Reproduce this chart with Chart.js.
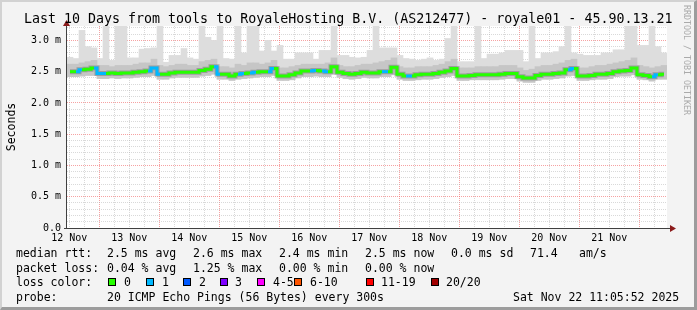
<!DOCTYPE html>
<html>
<head>
<meta charset="utf-8">
<script src="https://cdn.jsdelivr.net/npm/chart.js@4/dist/chart.umd.min.js"></script>
<style>
  body { margin: 0; background: #f3f3f3; }
  #wrap { position: relative; width: 697px; height: 310px; overflow: hidden; background: #f3f3f3;
          font-family: "DejaVu Sans Mono", monospace; color: #000; }
  #chart { position: absolute; left: 0; top: 0; }
  #frame { position: absolute; left: 0; top: 0; width: 697px; height: 310px; box-sizing: border-box;
           border-style: solid; border-width: 2px 3px 3px 2px;
           border-color: #d2d2d2 #9c9c9c #9c9c9c #d2d2d2; pointer-events: none; }
  .t { position: absolute; white-space: pre; font-size: 11.5px; line-height: 14px; }
  .box { position: absolute; width: 6px; height: 6px; border: 1px solid #000; top: 278px; }
  #title { position: absolute; left: 24px; top: 11px; font-size: 13.3px; line-height: 16px; white-space: pre; }
  #ylab { position: absolute; left: -17px; top: 120px; width: 56px; text-align: center;
          font-size: 11.5px; line-height: 14px; transform: rotate(-90deg); }
  #rrd { position: absolute; left: 682px; top: 5px; writing-mode: vertical-rl; font-size: 8.3px;
         color: #aaa; white-space: pre; }
</style>
</head>
<body>
<div id="wrap">
  <canvas id="chart" width="697" height="310"></canvas>
  <div id="title">Last 10 Days from tools to RoyaleHosting B.V. (AS212477) - royale01 - 45.90.13.21</div>
  <div id="ylab">Seconds</div>
  <div id="rrd">RRDTOOL / TOBI OETIKER</div>
  <div id="legend"></div>
  <div id="frame"></div>
</div>
<script>
// time axis: hours since 12 Nov 00:00, window ends Sat Nov 22 11:05:52
const startHour = 11.1;
const endHour = 251.1;
const stepHours = 2.4;
const dayLabels = ['12 Nov', '13 Nov', '14 Nov', '15 Nov', '16 Nov', '17 Nov', '18 Nov', '19 Nov', '20 Nov', '21 Nov'];

// median rtt (ms), one value per 2.4h column
const median = [
  2.50, 2.50, 2.53, 2.54, 2.56, 2.47, 2.47, 2.48, 2.47, 2.48,
  2.48, 2.49, 2.50, 2.51, 2.56, 2.46, 2.46, 2.48, 2.49, 2.49,
  2.49, 2.49, 2.52, 2.54, 2.58, 2.46, 2.46, 2.43, 2.46, 2.47,
  2.48, 2.49, 2.50, 2.50, 2.55, 2.43, 2.43, 2.45, 2.48, 2.51,
  2.51, 2.52, 2.51, 2.50, 2.58, 2.49, 2.47, 2.46, 2.47, 2.49,
  2.48, 2.48, 2.50, 2.50, 2.57, 2.46, 2.43, 2.43, 2.45, 2.46,
  2.46, 2.47, 2.49, 2.51, 2.55, 2.43, 2.43, 2.44, 2.45, 2.45,
  2.45, 2.45, 2.46, 2.47, 2.47, 2.42, 2.40, 2.40, 2.44, 2.46,
  2.46, 2.47, 2.48, 2.53, 2.55, 2.43, 2.43, 2.44, 2.46, 2.46,
  2.47, 2.50, 2.51, 2.52, 2.56, 2.45, 2.44, 2.42, 2.45, 2.46
];

// lost pings per column (out of 20)
const loss = [
  0, 1, 0, 0, 1, 1, 0, 0, 0, 0,
  0, 0, 0, 1, 1, 0, 0, 0, 0, 0,
  0, 0, 0, 0, 1, 0, 0, 0, 1, 0,
  1, 0, 0, 1, 0, 0, 0, 0, 0, 0,
  1, 0, 1, 0, 0, 0, 0, 0, 0, 0,
  0, 0, 1, 0, 0, 0, 1, 0, 0, 0,
  0, 0, 0, 0, 0, 0, 0, 0, 0, 0,
  0, 0, 0, 0, 0, 0, 0, 0, 0, 0,
  0, 0, 0, 1, 0, 0, 0, 0, 0, 0,
  0, 0, 0, 0, 0, 0, 0, 1, 0, 0
];

// smoke: slowest ping per column
const smokeMax = [
  2.73, 2.71, 3.16, 2.90, 2.88, 2.71, 3.30, 2.68, 3.30, 3.30,
  2.72, 2.72, 2.86, 2.87, 2.88, 3.30, 2.65, 2.76, 2.76, 2.87,
  2.72, 2.70, 3.30, 3.05, 3.00, 3.30, 2.71, 2.70, 3.30, 2.80,
  3.30, 3.30, 2.83, 3.00, 2.83, 2.92, 2.70, 2.70, 2.80, 2.80,
  2.80, 2.70, 2.84, 2.84, 3.30, 2.76, 2.76, 2.73, 2.72, 2.73,
  2.84, 3.30, 2.88, 2.88, 2.88, 2.76, 2.71, 2.70, 2.68, 2.70,
  2.72, 2.68, 2.70, 3.03, 3.30, 2.66, 2.66, 2.66, 3.30, 2.71,
  2.78, 2.78, 2.80, 2.84, 2.84, 2.84, 2.66, 3.30, 2.71, 2.80,
  2.80, 2.82, 2.90, 3.30, 2.80, 2.78, 2.76, 2.76, 2.76, 2.80,
  2.80, 2.85, 2.85, 3.30, 3.30, 2.92, 2.92, 3.30, 2.90, 2.80
];

// smoke: upper edge of the dense band
const smokeHigh = [
  2.62, 2.62, 2.64, 2.66, 2.68, 2.60, 2.60, 2.58, 2.60, 2.60,
  2.60, 2.62, 2.64, 2.64, 2.70, 2.60, 2.58, 2.60, 2.62, 2.62,
  2.60, 2.60, 2.66, 2.68, 2.70, 2.58, 2.58, 2.56, 2.62, 2.60,
  2.64, 2.64, 2.62, 2.64, 2.68, 2.56, 2.56, 2.58, 2.60, 2.62,
  2.62, 2.62, 2.62, 2.64, 2.72, 2.60, 2.58, 2.58, 2.60, 2.62,
  2.62, 2.64, 2.66, 2.68, 2.72, 2.58, 2.56, 2.56, 2.58, 2.58,
  2.58, 2.60, 2.62, 2.66, 2.70, 2.56, 2.56, 2.56, 2.58, 2.58,
  2.58, 2.58, 2.60, 2.60, 2.60, 2.56, 2.52, 2.54, 2.58, 2.60,
  2.60, 2.62, 2.64, 2.68, 2.70, 2.56, 2.56, 2.58, 2.60, 2.60,
  2.62, 2.64, 2.66, 2.68, 2.72, 2.60, 2.58, 2.56, 2.58, 2.60
];

// smoke: fastest ping per column
const smokeLow = [
  2.42, 2.42, 2.43, 2.44, 2.44, 2.39, 2.39, 2.40, 2.39, 2.40,
  2.40, 2.41, 2.42, 2.42, 2.44, 2.38, 2.38, 2.40, 2.41, 2.41,
  2.41, 2.41, 2.43, 2.44, 2.46, 2.38, 2.38, 2.36, 2.38, 2.39,
  2.40, 2.41, 2.42, 2.42, 2.44, 2.36, 2.36, 2.37, 2.40, 2.42,
  2.42, 2.43, 2.42, 2.42, 2.46, 2.41, 2.39, 2.38, 2.39, 2.41,
  2.40, 2.40, 2.42, 2.42, 2.45, 2.38, 2.36, 2.36, 2.37, 2.38,
  2.38, 2.39, 2.41, 2.42, 2.44, 2.36, 2.36, 2.37, 2.37, 2.37,
  2.37, 2.37, 2.38, 2.39, 2.39, 2.35, 2.33, 2.33, 2.36, 2.38,
  2.38, 2.39, 2.40, 2.43, 2.44, 2.36, 2.36, 2.37, 2.38, 2.38,
  2.39, 2.42, 2.43, 2.43, 2.45, 2.38, 2.37, 2.35, 2.38, 2.38
];

const lossLabels = ['0', '1', '2', '3', '4-5', '6-10', '11-19', '20/20'];
const lossColors = ['#26ff00', '#00b8ff', '#0059ff', '#7e00ff', '#ff00ff', '#ff5500', '#ff0000', '#a10000'];

const hours = median.map((_, i) => startHour + stepHours * (i + 0.5));
const pts = arr => arr.map((v, i) => ({ x: hours[i], y: v }));
const range = (lo, hi) => lo.map((v, i) => ({ x: hours[i], y: [v, hi[i]] }));

function lossColor(n) {
  if (n <= 3) return lossColors[n];
  if (n <= 5) return lossColors[4];
  if (n <= 10) return lossColors[5];
  if (n <= 19) return lossColors[6];
  return lossColors[7];
}

// white canvas behind the plot, axes with arrows on top
const framePlugin = {
  id: 'frame',
  beforeDraw(chart) {
    const a = chart.chartArea, c = chart.ctx;
    c.save();
    c.fillStyle = '#ffffff';
    c.fillRect(a.left, a.top, a.right - a.left, a.bottom - a.top);
    c.restore();
  },
  afterDraw(chart) {
    const a = chart.chartArea, c = chart.ctx;
    c.save();
    c.strokeStyle = '#404040';
    c.lineWidth = 1;
    c.beginPath();
    c.moveTo(a.left - 0.5, a.bottom + 0.5);
    c.lineTo(a.left - 0.5, a.top - 3);
    c.moveTo(a.left - 3, a.bottom + 0.5);
    c.lineTo(a.right + 5, a.bottom + 0.5);
    c.stroke();
    c.fillStyle = '#8b1a1a';
    c.beginPath();
    c.moveTo(a.left - 4, a.top);
    c.lineTo(a.left + 3, a.top);
    c.lineTo(a.left - 0.5, a.top - 6);
    c.closePath();
    c.fill();
    c.beginPath();
    c.moveTo(a.right + 3, a.bottom - 3);
    c.lineTo(a.right + 3, a.bottom + 4);
    c.lineTo(a.right + 9, a.bottom + 0.5);
    c.closePath();
    c.fill();
    c.restore();
  }
};

const gridMinor = 'rgba(170,170,170,0.45)';
const gridMajor = 'rgba(240,100,100,0.6)';
const tickFont = { family: '"DejaVu Sans Mono"', size: 10 };

new Chart(document.getElementById('chart').getContext('2d'), {
  data: {
    datasets: [
      {
        type: 'line', label: 'median', order: 0,
        data: pts(median), stepped: 'middle', borderWidth: 3, pointRadius: 0,
        borderColor: lossColors[0],
        segment: { borderColor: ctx => lossColor(loss[ctx.p0DataIndex]) }
      },
      {
        type: 'line', label: 'core', order: 1,
        data: pts(median), stepped: 'middle', borderWidth: 5, pointRadius: 0,
        borderColor: 'rgba(80,80,80,0.35)'
      },
      {
        type: 'bar', label: 'band', order: 2,
        data: range(smokeLow, smokeHigh), backgroundColor: '#c6c6c6', borderWidth: 0,
        barPercentage: 1, categoryPercentage: 1, grouped: false
      },
      {
        type: 'bar', label: 'max', order: 3,
        data: range(smokeLow, smokeMax), backgroundColor: '#dddddd', borderWidth: 0,
        barPercentage: 1, categoryPercentage: 1, grouped: false
      }
    ]
  },
  options: {
    responsive: false,
    animation: false,
    devicePixelRatio: 1,
    layout: { padding: { left: 7, top: 26, right: 30, bottom: 0 } },
    plugins: { legend: { display: false }, tooltip: { enabled: false }, title: { display: false } },
    scales: {
      x: {
        type: 'linear', min: startHour, max: endHour, z: 1, offset: false,
        afterBuildTicks: s => {
          const t = [];
          for (let h = 12; h < endHour; h += 6) t.push({ value: h });
          s.ticks = t;
        },
        afterFit: s => { s.height = 82; },
        border: { display: false, dash: [1, 1] },
        grid: {
          drawTicks: false, offset: false,
          color: ctx => (ctx.tick && ctx.tick.value % 24 === 0) ? gridMajor : gridMinor
        },
        ticks: {
          autoSkip: false, maxRotation: 0, padding: 4, color: '#000', font: tickFont,
          callback: v => (v % 24 === 12) ? dayLabels[(v - 12) / 24] : ''
        }
      },
      y: {
        type: 'linear', min: 0, max: 3.23, z: 1,
        afterBuildTicks: s => {
          const t = [];
          for (let n = 0; n <= 32; n++) t.push({ value: n / 10 });
          s.ticks = t;
        },
        afterFit: s => { s.width = 60; },
        border: { display: false, dash: [1, 1] },
        grid: {
          drawTicks: false,
          color: ctx => {
            const n = Math.round(ctx.tick.value * 10);
            if (n === 0) return 'rgba(0,0,0,0)';
            return n % 5 === 0 ? gridMajor : gridMinor;
          }
        },
        ticks: {
          autoSkip: false, padding: 6, color: '#000', font: tickFont,
          callback: v => {
            const n = Math.round(v * 10);
            if (n % 5) return '';
            return n === 0 ? '0.0' : (n / 10).toFixed(1) + ' m';
          }
        }
      }
    }
  },
  plugins: [framePlugin]
});

// legend block under the graph
const legendRows = [
  { top: 246, items: [[16, 'median rtt:'], [107, '2.5 ms avg'], [193, '2.6 ms max'], [279, '2.4 ms min'],
                      [365, '2.5 ms now'], [451, '0.0 ms sd'], [530, '71.4'], [579, 'am/s']] },
  { top: 261, items: [[16, 'packet loss:'], [107, '0.04 % avg'], [193, '1.25 % max'], [279, '0.00 % min'],
                      [365, '0.00 % now']] },
  { top: 275, items: [[16, 'loss color:']] },
  { top: 290, items: [[16, 'probe:'], [107, '20 ICMP Echo Pings (56 Bytes) every 300s'], [513, 'Sat Nov 22 11:05:52 2025']] }
];
const boxX = [108, 146, 183, 220, 257, 294, 366, 431];
const boxLabelX = [124, 162, 199, 235, 273, 310, 381, 446];
const legend = document.getElementById('legend');
legendRows.forEach(r => r.items.forEach(([x, s]) => {
  const d = document.createElement('div');
  d.className = 't';
  d.style.left = x + 'px';
  d.style.top = r.top + 'px';
  d.textContent = s;
  legend.appendChild(d);
}));
lossLabels.forEach((s, i) => {
  const b = document.createElement('div');
  b.className = 'box';
  b.style.left = boxX[i] + 'px';
  b.style.background = lossColors[i];
  legend.appendChild(b);
  const d = document.createElement('div');
  d.className = 't';
  d.style.left = boxLabelX[i] + 'px';
  d.style.top = '275px';
  d.textContent = s;
  legend.appendChild(d);
});
</script>
</body>
</html>
